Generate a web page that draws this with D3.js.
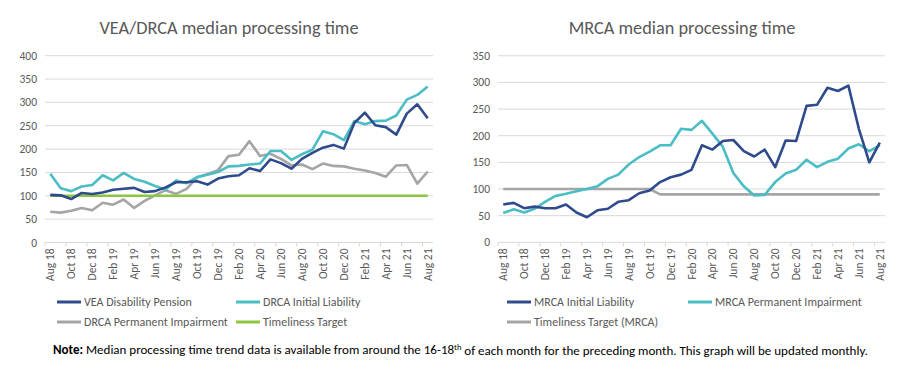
<!DOCTYPE html>
<html>
<head>
<meta charset="utf-8">
<script src="https://cdn.jsdelivr.net/npm/d3@7"></script>
<style>
  body { margin: 0; background: #fff; }
  svg text { font-family: Carlito, Lato, "Liberation Sans", sans-serif; fill: #595959; }
</style>
</head>
<body>
<svg id="chart" width="900" height="374"></svg>
<script>
// months Aug 18 .. Aug 21
var months = ['Aug 18','Sep 18','Oct 18','Nov 18','Dec 18','Jan 19','Feb 19','Mar 19','Apr 19','May 19','Jun 19','Jul 19',
  'Aug 19','Sep 19','Oct 19','Nov 19','Dec 19','Jan 20','Feb 20','Mar 20','Apr 20','May 20','Jun 20','Jul 20',
  'Aug 20','Sep 20','Oct 20','Nov 20','Dec 20','Jan 21','Feb 21','Mar 21','Apr 21','May 21','Jun 21','Jul 21','Aug 21'];

var veaDisability = [102,101,93,106,104,107,113,115,117,108,110,118,129,129,131,124,137,142,144,159,153,178,170,158,179,192,203,209,201,256,278,251,247,231,276,296,266];
var drcaInitial = [147,116,110,120,123,144,133,149,136,130,121,113,133,127,140,145,151,163,164,167,169,196,196,177,189,199,238,232,219,260,253,260,261,272,306,316,334];
var drcaPermanent = [66,64,68,74,69,85,81,92,74,89,101,112,104,115,139,147,155,185,188,217,185,190,179,165,167,157,169,164,163,158,154,149,141,165,166,126,152];
var timelinessTarget = [100,100,100,100,100,100,100,100,100,100,100,100,100,100,100,100,100,100,100,100,100,100,100,100,100,100,100,100,100,100,100,100,100,100,100,100,100];

var mrcaInitial = [71,74,64,67,64,64,71,56,47,60,63,76,79,92,97,113,122,127,136,182,174,190,192,171,161,174,141,191,190,256,258,290,284,294,213,150,187];
var mrcaPermanent = [55,62,56,63,76,87,91,96,100,105,119,127,146,160,170,182,182,213,211,228,204,179,130,105,88,89,113,129,136,155,141,151,157,176,184,171,182];
var mrcaTarget = [100,100,100,100,100,100,100,100,100,100,100,100,100,100,100,90,90,90,90,90,90,90,90,90,90,90,90,90,90,90,90,90,90,90,90,90,90];

var leftTicks = [0,50,100,150,200,250,300,350,400];
var rightTicks = [0,50,100,150,200,250,300,350];

var clrs = {navy: '#2F4B8C', teal: '#4BBDC4', grey: '#A5A5A5', green: '#8CC63F'};

var svg = d3.select('#chart');

function drawChart(cfg) {
    var g = svg.append('g');
    var xs = d3.scaleBand().domain(months).range(cfg.xr);
    var ys = d3.scaleLinear().domain([0, d3.max(cfg.ticks)]).range(cfg.yr);

    // gridlines
    g.selectAll('.grid').data(cfg.ticks).enter().append('line')
        .attr('x1', cfg.xr[0]).attr('x2', cfg.xr[1])
        .attr('y1', function(d) { return ys(d); }).attr('y2', function(d) { return ys(d); })
        .attr('stroke', '#D9D9D9').attr('stroke-width', 1);

    g.selectAll('.ylab').data(cfg.ticks).enter().append('text')
        .attr('x', cfg.xr[0] - 8).attr('y', function(d) { return ys(d); })
        .attr('dy', '0.35em').attr('text-anchor', 'end')
        .style('font-size', '11.5px')
        .text(function(d) { return d; });

    // category ticks every 2 months
    var bw = xs.bandwidth();
    var tickIdx = d3.range(0, months.length, 2);
    g.selectAll('.xt').data(tickIdx).enter().append('line')
        .attr('x1', function(i) { return cfg.xr[0] + i * bw; })
        .attr('x2', function(i) { return cfg.xr[0] + i * bw; })
        .attr('y1', cfg.yr[0]).attr('y2', cfg.yr[0] + 4)
        .attr('stroke', '#D9D9D9');

    g.selectAll('.xlab').data(tickIdx).enter().append('text')
        .attr('transform', function(i) {
            return 'translate(' + (xs(months[i]) + bw / 2) + ',' + (cfg.yr[0] + 6) + ') rotate(-90)';
        })
        .attr('dy', '0.35em').attr('text-anchor', 'end')
        .style('font-size', '11.5px')
        .text(function(i) { return months[i]; });

    var line = d3.line()
        .x(function(d, i) { return xs(months[i]) + bw / 2; })
        .y(function(d) { return ys(d); });

    cfg.series.forEach(function(s) {
        g.append('path').datum(s.values)
            .attr('fill', 'none').attr('stroke', s.color)
            .attr('stroke-width', 2.6).attr('stroke-linejoin', 'round')
            .attr('d', line);
    });

    g.append('text').attr('x', cfg.titleX).attr('y', 28)
        .attr('dy', '0.35em').attr('text-anchor', 'middle')
        .style('font-size', '18.3px').text(cfg.title);

    cfg.legend.forEach(function(l) {
        g.append('line').attr('x1', l.x).attr('x2', l.x + 24)
            .attr('y1', l.y).attr('y2', l.y)
            .attr('stroke', l.color).attr('stroke-width', 3);
        g.append('text').attr('x', l.x + 27).attr('y', l.y).attr('dy', '0.35em')
            .style('font-size', '12px').text(l.name);
    });
}

drawChart({
    xr: [45, 433], yr: [242.5, 55.7], ticks: leftTicks,
    title: 'VEA/DRCA median processing time', titleX: 229,
    series: [
        {values: drcaPermanent, color: clrs.grey},
        {values: timelinessTarget, color: clrs.green},
        {values: drcaInitial, color: clrs.teal},
        {values: veaDisability, color: clrs.navy}
    ],
    legend: [
        {name: 'VEA Disability Pension', color: clrs.navy, x: 57, y: 302},
        {name: 'DRCA Initial Liability', color: clrs.teal, x: 236, y: 302},
        {name: 'DRCA Permanent Impairment', color: clrs.grey, x: 57, y: 322},
        {name: 'Timeliness Target', color: clrs.green, x: 236, y: 322}
    ]
});

drawChart({
    xr: [498, 885], yr: [242.3, 55.8], ticks: rightTicks,
    title: 'MRCA median processing time', titleX: 682,
    series: [
        {values: mrcaTarget, color: clrs.grey},
        {values: mrcaPermanent, color: clrs.teal},
        {values: mrcaInitial, color: clrs.navy}
    ],
    legend: [
        {name: 'MRCA Initial Liability', color: clrs.navy, x: 507, y: 302},
        {name: 'MRCA Permanent Impairment', color: clrs.teal, x: 688, y: 302},
        {name: 'Timeliness Target (MRCA)', color: clrs.grey, x: 507, y: 322}
    ]
});

// footnote
var note = svg.append('text').attr('x', 53).attr('y', 349).attr('dy', '0.35em')
    .style('font-size', '13px').style('fill', '#000');
note.append('tspan').style('font-weight', 'bold').style('fill', '#000').text('Note:');
note.append('tspan').style('fill', '#000').text(' Median processing time trend data is available from around the 16-18');
note.append('tspan').style('fill', '#000').attr('dy', '-0.4em').style('font-size', '8.5px').text('th');
note.append('tspan').style('fill', '#000').attr('dy', '0.4em').text(' of each month for the preceding month. This graph will be updated monthly.');
</script>
</body>
</html>
